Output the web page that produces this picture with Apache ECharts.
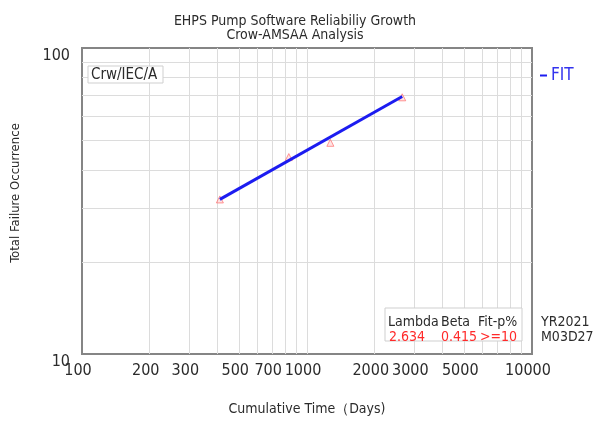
<!DOCTYPE html>
<html>
<head>
<meta charset="utf-8">
<title>EHPS Pump Software Reliability Growth</title>
<script src="https://cdn.jsdelivr.net/npm/echarts@6/dist/echarts.min.js"></script>
<style>
  html, body { margin: 0; padding: 0; background: #fff; }
  #chart { width: 603px; height: 424px; }
</style>
</head>
<body>
<div id="chart"></div>
<script>
// Observed cumulative failures vs. cumulative operating time
const timeDays = [410, 830, 1270, 2650];
const failures = [32, 44, 49, 69];

// Crow-AMSAA fit line end points
const fitTime = [410, 2650];
const fitFailures = [32, 69.4];

// Axis labels and grid lines (log scales)
const xTickLabels = [100, 200, 300, 500, 700, 1000, 2000, 3000, 5000, 10000];
const xGridValues = [200, 300, 400, 500, 600, 700, 800, 900, 1000,
                     2000, 3000, 4000, 5000, 6000, 7000, 8000, 9000];
const yGridValues = [20, 30, 40, 50, 60, 70, 80, 90];

// Fit statistics
const statHeaders = ['Lambda', 'Beta', 'Fit-p%'];
const statValues = ['2.634', '0.415', '>=10'];
const stampLines = ['YR2021', 'M03D27'];

const FONT = '"Liberation Sans Narrow", "Arial Narrow", "DejaVu Sans Condensed", "Liberation Sans", sans-serif';
const TEXT = '#2b2b2b';
const RED = '#ff2a2a';

const chart = echarts.init(document.getElementById('chart'), null, { renderer: 'canvas' });

const gridLines = xGridValues.map(v => ({ xAxis: v }))
  .concat(yGridValues.map(v => ({ yAxis: v })));

const tickLabelLines = xTickLabels.map(v => ({
  xAxis: v,
  label: { show: true, formatter: String(v) }
}));

function boxText(x, y, text, color) {
  return {
    type: 'text', x: x, y: y, z: 11,
    style: { text: text, fontFamily: FONT, fontSize: 14, fill: color, verticalAlign: 'middle' }
  };
}

const option = {
  animation: false,
  backgroundColor: '#ffffff',
  textStyle: { fontFamily: FONT },
  title: {
    text: 'EHPS Pump Software Reliabiliy Growth\nCrow-AMSAA Analysis',
    left: 290,
    top: 9,
    textAlign: 'center',
    textStyle: { fontFamily: FONT, fontSize: 14, fontWeight: 'normal', color: TEXT, lineHeight: 14 }
  },
  legend: {
    data: ['FIT'],
    left: 535,
    top: 62,
    icon: 'rect',
    itemWidth: 7,
    itemHeight: 2,
    itemGap: 4,
    textStyle: { fontFamily: FONT, fontSize: 17, color: '#3333ee', padding: [4, 0, 0, -1] }
  },
  grid: {
    left: 82,
    top: 48,
    right: 71,
    bottom: 70,
    show: true,
    borderColor: '#858585',
    borderWidth: 2,
    backgroundColor: '#ffffff'
  },
  xAxis: {
    type: 'log',
    logBase: 10,
    min: 100,
    max: 10000,
    name: 'Cumulative Time（Days)',
    nameLocation: 'middle',
    nameGap: 48,
    nameTextStyle: { fontFamily: FONT, fontSize: 14, color: TEXT },
    axisLine: { show: false },
    axisTick: { show: false },
    axisLabel: { show: false },
    splitLine: { show: false }
  },
  yAxis: {
    type: 'log',
    logBase: 10,
    min: 10,
    max: 100,
    name: 'Total Failure Occurrence',
    nameLocation: 'middle',
    nameRotate: 90,
    nameGap: 60,
    nameTextStyle: { fontFamily: FONT, fontSize: 13, color: TEXT, padding: [0, 0, 0, 16] },
    axisLine: { show: false },
    axisTick: { show: false },
    axisLabel: {
      fontFamily: FONT, fontSize: 16, color: TEXT, margin: 12,
      verticalAlign: 'top', lineHeight: 16
    },
    splitLine: { show: false }
  },
  series: [
    {
      // light grid at every 1..9 step of each decade
      type: 'line',
      data: [],
      silent: true,
      z: 1,
      markLine: {
        silent: true,
        z: 1,
        symbol: ['none', 'none'],
        label: { show: false },
        lineStyle: { color: '#dcdcdc', width: 1, type: 'solid' },
        data: gridLines
      }
    },
    {
      // x tick labels below the plot
      type: 'line',
      data: [],
      silent: true,
      z: 1,
      markLine: {
        silent: true,
        z: 1,
        symbol: ['none', 'none'],
        lineStyle: { color: 'rgba(0,0,0,0)', width: 0 },
        label: {
          show: true,
          position: 'start',
          distance: 9,
          fontFamily: FONT,
          fontSize: 16,
          color: TEXT,
          padding: [0, 8, 0, 0]
        },
        data: tickLabelLines
      }
    },
    {
      name: 'data',
      type: 'scatter',
      data: timeDays.map((t, i) => [t, failures[i]]),
      symbol: 'triangle',
      symbolSize: 7,
      itemStyle: { color: 'rgba(255,120,120,0.25)', borderColor: '#ff7a7a', borderWidth: 1 },
      z: 6
    },
    {
      name: 'FIT',
      type: 'line',
      data: fitTime.map((t, i) => [t, fitFailures[i]]),
      showSymbol: false,
      symbol: 'none',
      lineStyle: { color: '#1c1cf0', width: 3 },
      itemStyle: { color: '#1c1cf0' },
      z: 7
    }
  ],
  graphic: [
    {
      type: 'rect',
      shape: { x: 88, y: 66, width: 75, height: 17 },
      style: { fill: '#ffffff', stroke: '#cfcfcf', lineWidth: 1 },
      z: 10
    },
    {
      type: 'text',
      x: 91, y: 75, z: 11,
      style: { text: 'Crw/IEC/A', fontFamily: FONT, fontSize: 15, fill: TEXT, verticalAlign: 'middle' }
    },
    {
      type: 'rect',
      shape: { x: 385, y: 308, width: 137, height: 33 },
      style: { fill: '#ffffff', stroke: '#cfcfcf', lineWidth: 1 },
      z: 10
    },
    boxText(388, 322, statHeaders[0], TEXT),
    boxText(441, 322, statHeaders[1], TEXT),
    boxText(478, 322, statHeaders[2], TEXT),
    boxText(389, 337, statValues[0], RED),
    boxText(441, 337, statValues[1], RED),
    boxText(480, 337, statValues[2], RED),
    boxText(541, 322, stampLines[0], TEXT),
    boxText(541, 337, stampLines[1], TEXT)
  ]
};

chart.setOption(option);
</script>
</body>
</html>
